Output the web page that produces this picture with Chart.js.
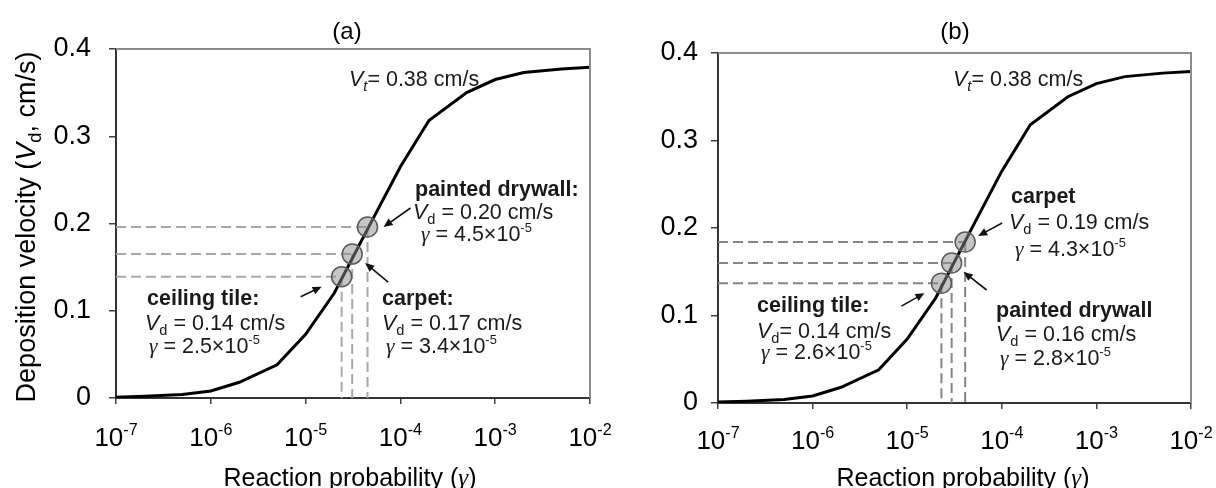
<!DOCTYPE html>
<html>
<head>
<meta charset="utf-8">
<script src="https://cdn.jsdelivr.net/npm/chart.js@4.4.1/dist/chart.umd.min.js"></script>
<style>
  body { margin: 0; background: #fff; }
  #wrap { position: relative; width: 1216px; height: 488px; overflow: hidden; }
  canvas { position: absolute; top: 0; }
</style>
</head>
<body>
<div id="wrap">
  <canvas id="chartA" width="630" height="488" style="left:0"></canvas>
  <canvas id="chartB" width="608" height="488" style="left:608px"></canvas>
</div>
<script>
// deposition velocity curve (same curve in both panels)
const gamma = [1e-7, 2e-7, 5e-7, 1e-6, 2e-6, 5e-6, 1e-5, 2e-5, 5e-5, 1e-4, 2e-4, 5e-4, 1e-3, 2e-3, 5e-3, 1e-2];
const vd = [0.001, 0.002, 0.004, 0.008, 0.018, 0.038, 0.073, 0.120, 0.203, 0.265, 0.318, 0.350, 0.365, 0.373, 0.377, 0.379];
const xTicks = [1e-7, 1e-6, 1e-5, 1e-4, 1e-3, 1e-2];
const xTickExp = ['-7', '-6', '-5', '-4', '-3', '-2'];
const yTicks = [0, 0.1, 0.2, 0.3, 0.4];

// panel (a) materials
const matA = ['ceiling tile:', 'carpet:', 'painted drywall:'];
const matGammaA = [2.4e-5, 3.1e-5, 4.5e-5];
const matVdA = [0.139, 0.165, 0.196];
const vdTextA = ['0.14', '0.17', '0.20'];
const gTextA = ['2.5', '3.4', '4.5'];

// panel (b) materials
const matB = ['ceiling tile:', 'painted drywall', 'carpet'];
const matGammaB = [2.3e-5, 2.95e-5, 4.1e-5];
const matVdB = [0.137, 0.160, 0.184];
const vdTextB = ['0.14', '0.16', '0.19'];
const gTextB = ['2.6', '2.8', '4.3'];

// label placement (canvas px) - b = bold name, v = Vd line, g = gamma line, arrows relative to marker
const panels = {
  chartA: {
    mats: matA, g: matGammaA, v: matVdA, vdT: vdTextA, gT: gTextA, vdEq: [' = ', ' = ', ' = '],
    dash: '#a8a8a8', title: '(a)', titleX: 347, vt: [349, 78], xTitle: [350, 477], yTitle: [25, 227], tickY: 437,
    lab: [
      { b: [147, 297], v: [145, 322], g: [149, 345], tail: [-41, 20], tip: [-20, 10] },
      { b: [382, 297], v: [382, 322], g: [386, 345], tail: [36, 28], tip: [13, 9] },
      { b: [415, 188], v: [413, 211], g: [421, 233], tail: [43, -19], tip: [16, 0] }
    ]
  },
  chartB: {
    mats: matB, g: matGammaB, v: matVdB, vdT: vdTextB, gT: gTextB, vdEq: ['= ', ' = ', ' = '],
    dash: '#858585', title: '(b)', titleX: 347, vt: [345, 78], xTitle: [355, 477], yTitle: null, tickY: 440,
    lab: [
      { b: [149, 304], v: [149, 330], g: [153, 351], tail: [-40, 23], tip: [-17, 10] },
      { b: [388, 309], v: [388, 333], g: [392, 357], tail: [35, 27], tip: [12, 9] },
      { b: [403, 195], v: [401, 221], g: [407, 248], tail: [37, -19], tip: [13, -6] }
    ]
  }
};

const SANS = '"Liberation Sans", Arial, sans-serif';
function font(s, size) {
  if (s === 'b') return 'bold ' + size + 'px ' + SANS;
  if (s === 'i') return 'italic ' + size + 'px ' + SANS;
  if (s === 'g') return 'italic ' + size + 'px "Liberation Serif", serif';
  return size + 'px ' + SANS;
}

// draw mixed-style text; y is the middle of the caps
function drawRich(ctx, x, y, parts, size, align, rot) {
  ctx.save();
  ctx.translate(x, y);
  if (rot) ctx.rotate(rot);
  ctx.textBaseline = 'alphabetic';
  ctx.textAlign = 'left';
  let w = 0;
  const m = parts.map(p => {
    const sz = (p.sub || p.sup) ? size * (p.k || 0.68) : size;
    ctx.font = font(p.s, sz);
    const pw = ctx.measureText(p.t).width;
    w += pw;
    return { p, sz, pw };
  });
  let cx = align === 'center' ? -w / 2 : align === 'right' ? -w : 0;
  const base = size * 0.36;
  m.forEach(({ p, sz, pw }) => {
    ctx.font = font(p.s, sz);
    const dy = p.sub ? size * 0.24 : p.sup ? -size * 0.42 : 0;
    ctx.fillText(p.t, cx, base + dy);
    cx += pw;
  });
  ctx.restore();
}

function arrow(ctx, x1, y1, x2, y2) {
  const a = Math.atan2(y2 - y1, x2 - x1);
  ctx.save();
  ctx.strokeStyle = '#111';
  ctx.fillStyle = '#111';
  ctx.lineWidth = 1.6;
  ctx.beginPath();
  ctx.moveTo(x1, y1);
  ctx.lineTo(x2 - 6 * Math.cos(a), y2 - 6 * Math.sin(a));
  ctx.stroke();
  ctx.beginPath();
  ctx.moveTo(x2, y2);
  ctx.lineTo(x2 - 9 * Math.cos(a) + 4 * Math.sin(a), y2 - 9 * Math.sin(a) - 4 * Math.cos(a));
  ctx.lineTo(x2 - 9 * Math.cos(a) - 4 * Math.sin(a), y2 - 9 * Math.sin(a) + 4 * Math.cos(a));
  ctx.closePath();
  ctx.fill();
  ctx.restore();
}

const deco = {
  id: 'deco',
  beforeDatasetsDraw(chart) {
    const P = panels[chart.canvas.id];
    const { ctx, chartArea: a, scales: { x, y } } = chart;
    ctx.save();
    ctx.strokeStyle = P.dash;
    ctx.lineWidth = 2;
    ctx.setLineDash([10, 5]);
    P.g.forEach((g, i) => {
      const px = x.getPixelForValue(g), py = y.getPixelForValue(P.v[i]);
      ctx.beginPath();
      ctx.moveTo(a.left, py); ctx.lineTo(px, py);
      ctx.moveTo(px, py); ctx.lineTo(px, a.bottom);
      ctx.stroke();
    });
    ctx.restore();
  },
  afterDraw(chart) {
    const P = panels[chart.canvas.id];
    const { ctx, chartArea: a, scales: { x, y } } = chart;
    // top and right frame
    ctx.save();
    ctx.strokeStyle = '#8c8c8c';
    ctx.lineWidth = 2;
    ctx.beginPath();
    ctx.moveTo(a.left, a.top); ctx.lineTo(a.right, a.top); ctx.lineTo(a.right, a.bottom);
    ctx.stroke();
    ctx.restore();

    ctx.fillStyle = '#000';
    // x tick labels with superscripts
    xTicks.forEach((v, i) => {
      drawRich(ctx, x.getPixelForValue(v), P.tickY, [{ t: '10' }, { t: xTickExp[i], sup: true, k: 0.62 }], 26, 'center');
    });
    drawRich(ctx, P.xTitle[0], P.xTitle[1], [{ t: 'Reaction probability (' }, { t: 'γ', s: 'g' }, { t: ')' }], 25, 'center');
    if (P.yTitle) {
      drawRich(ctx, P.yTitle[0], P.yTitle[1], [{ t: 'Deposition velocity (' }, { t: 'V', s: 'i' }, { t: 'd', sub: true }, { t: ', cm/s)' }], 27, 'center', -Math.PI / 2);
    }
    drawRich(ctx, P.titleX, 30, [{ t: P.title }], 24, 'center');

    ctx.fillStyle = '#1a1a1a';
    drawRich(ctx, P.vt[0], P.vt[1], [{ t: 'V', s: 'i' }, { t: 't', s: 'i', sub: true }, { t: '= 0.38 cm/s' }], 21.5);
    P.lab.forEach((L, i) => {
      drawRich(ctx, L.b[0], L.b[1], [{ t: P.mats[i], s: 'b' }], 21.5);
      drawRich(ctx, L.v[0], L.v[1], [{ t: 'V', s: 'i' }, { t: 'd', sub: true }, { t: P.vdEq[i] + P.vdT[i] + ' cm/s' }], 21.5);
      drawRich(ctx, L.g[0], L.g[1], [{ t: 'γ', s: 'g' }, { t: ' = ' + P.gT[i] + '×10' }, { t: '-5', sup: true, k: 0.6 }], 21.5);
      const px = x.getPixelForValue(P.g[i]), py = y.getPixelForValue(P.v[i]);
      arrow(ctx, px + L.tail[0], py + L.tail[1], px + L.tip[0], py + L.tip[1]);
    });
  }
};

function makeChart(id, pad, yW, xH, tickPad) {
  const P = panels[id];
  return new Chart(document.getElementById(id), {
    type: 'line',
    data: {
      datasets: [
        {
          data: P.g.map((g, i) => ({ x: g, y: P.v[i] })),
          showLine: false,
          pointRadius: 10,
          pointBackgroundColor: 'rgba(140,140,140,0.5)',
          pointBorderColor: '#5a5a5a',
          pointBorderWidth: 1.5
        },
        {
          data: gamma.map((g, i) => ({ x: g, y: vd[i] })),
          borderColor: '#000',
          borderWidth: 3,
          pointRadius: 0,
          tension: 0,
          fill: false
        }
      ]
    },
    options: {
      responsive: false,
      animation: false,
      devicePixelRatio: 1,
      layout: { padding: pad },
      plugins: { legend: { display: false }, tooltip: { enabled: false } },
      scales: {
        x: {
          type: 'logarithmic',
          min: 1e-7,
          max: 1e-2,
          afterBuildTicks: s => { s.ticks = xTicks.map(v => ({ value: v })); },
          ticks: { display: false },
          grid: { drawOnChartArea: false, drawTicks: true, tickLength: 6, color: '#404040', lineWidth: 1.5 },
          border: { display: true, color: '#333', width: 2 },
          afterFit: s => { s.height = xH; }
        },
        y: {
          min: 0,
          max: 0.4,
          afterBuildTicks: s => { s.ticks = yTicks.map(v => ({ value: v })); },
          ticks: {
            color: '#000',
            font: { family: SANS, size: 27 },
            padding: tickPad,
            callback: v => v === 0 ? '0' : v.toFixed(1)
          },
          grid: { drawOnChartArea: false, drawTicks: true, tickLength: 7, color: '#404040', lineWidth: 1.5 },
          border: { display: true, color: '#333', width: 2 },
          afterFit: s => { s.width = yW; }
        }
      }
    },
    plugins: [deco]
  });
}

makeChart('chartA', { left: 0, top: 49, right: 40, bottom: 0 }, 116, 90, 18);
makeChart('chartB', { left: 0, top: 53, right: 25, bottom: 0 }, 110, 85, 13);
</script>
</body>
</html>
